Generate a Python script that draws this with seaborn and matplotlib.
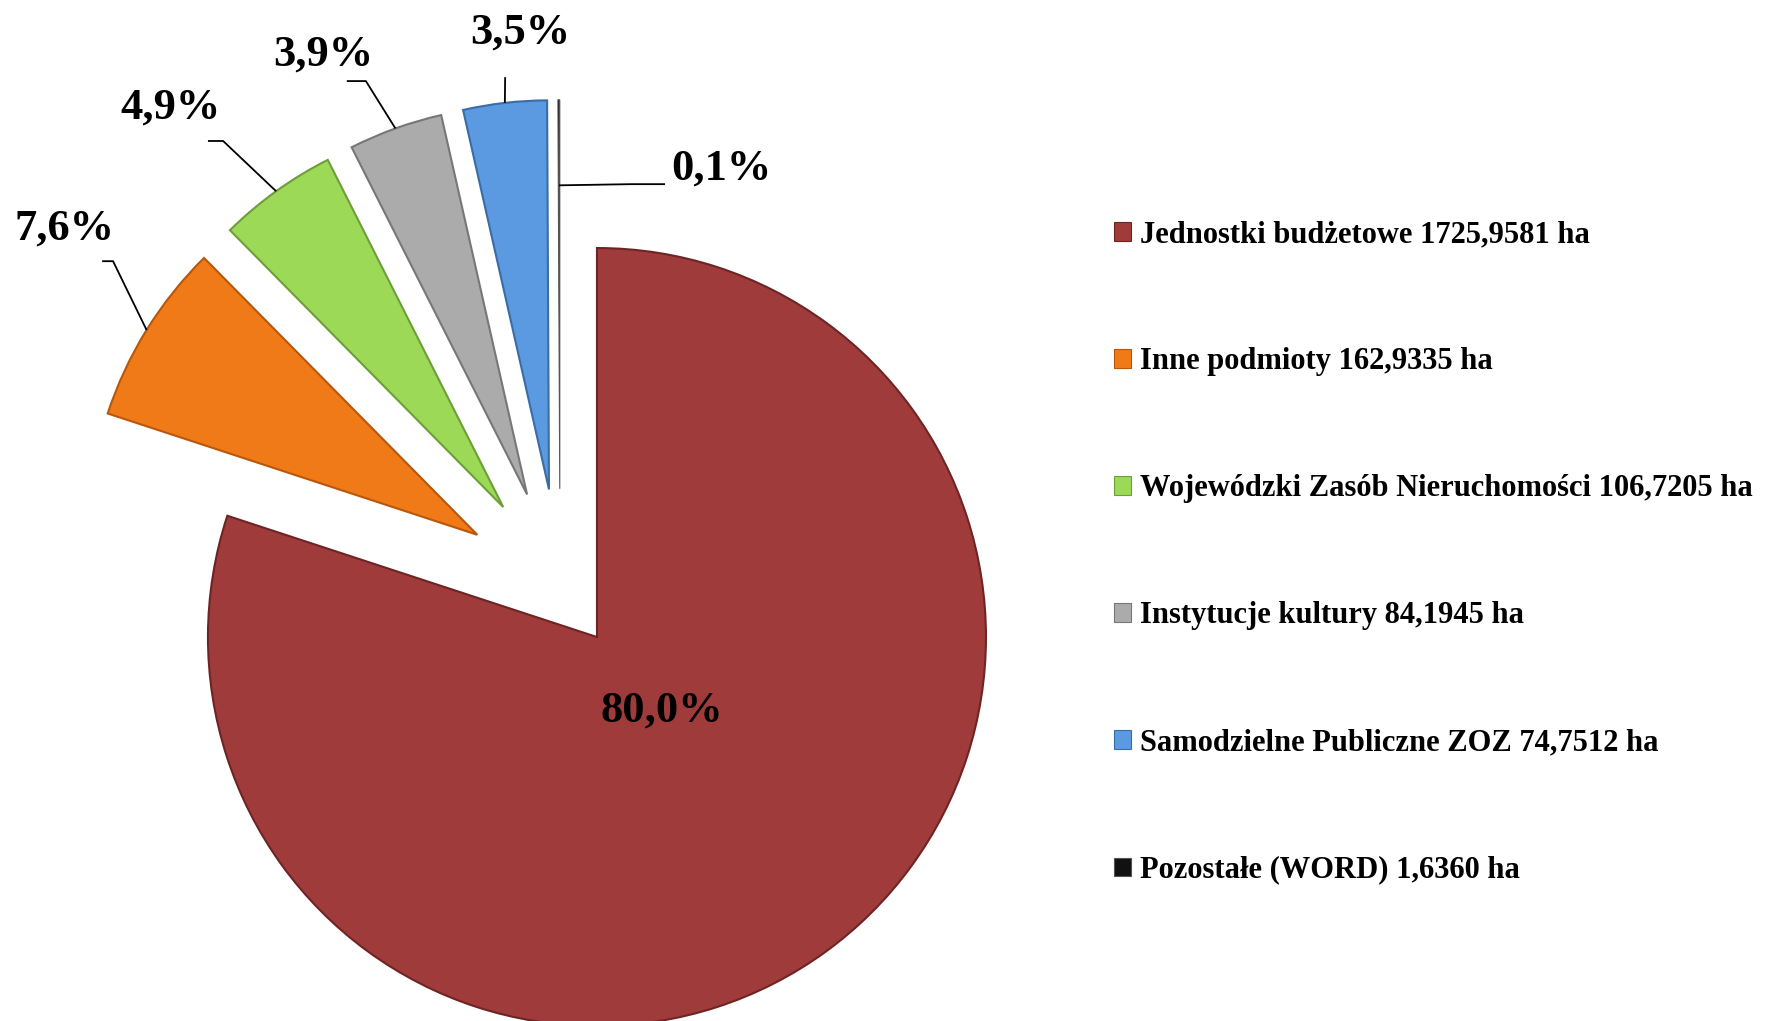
import matplotlib
matplotlib.use('Agg')
import matplotlib.pyplot as plt
from matplotlib.patches import Patch
import seaborn as sns
import numpy as np

# data
categories = ['Jednostki budżetowe', 'Inne podmioty', 'Wojewódzki Zasób Nieruchomości',
              'Instytucje kultury', 'Samodzielne Publiczne ZOZ', 'Pozostałe (WORD)']
areas_ha = [1725.9581, 162.9335, 106.7205, 84.1945, 74.7512, 1.6360]
area_labels = ['1725,9581', '162,9335', '106,7205', '84,1945', '74,7512', '1,6360']
colors = ['#A03B3B', '#F07A17', '#9CD957', '#ABABAB', '#5B9AE0', '#111111']
edge_colors = ['#6E2424', '#B8570C', '#6E9E38', '#777777', '#3A6CA6', '#555555']

sns.set_theme(style='white')
plt.rcParams['font.family'] = ['Liberation Serif', 'DejaVu Serif']
plt.rcParams['font.weight'] = 'bold'
plt.rcParams['text.color'] = 'black'

fig = plt.figure(figsize=(17.66, 10.21), dpi=100)
ax = fig.add_axes([0, 0, 1, 1])

explode = [0.162, 0.25, 0.25, 0.25, 0.25, 0.25]
wedges, _ = ax.pie(areas_ha, colors=colors, startangle=90, counterclock=False,
                   explode=explode, radius=1.0,
                   wedgeprops=dict(linewidth=1.5))
for w, ec in zip(wedges, edge_colors):
    w.set_edgecolor(ec)
wedges[-1].set_linewidth(0.8)

# pie centre at (560, 586) px, radius 389 px
R_PX = 389.0
cx, cy = 560.0, 586.0
W, H = 1766.0, 1021.0
ax.set_aspect('auto')
ax.set_xlim(-cx / R_PX, (W - cx) / R_PX)
ax.set_ylim(-(H - cy) / R_PX, cy / R_PX)
ax.axis('off')

total = sum(areas_ha)
pct = [f"{v / total * 100:.1f}".replace('.', ',') + '%' for v in areas_ha]


def outer_mid(w, frac=1.0):
    ang = np.deg2rad((w.theta1 + w.theta2) / 2)
    return (w.center[0] + frac * w.r * np.cos(ang), w.center[1] + frac * w.r * np.sin(ang))


# label layout: text position, and leader path points (text side)
text_pos = [(0.262, -0.319), (-1.275, 0.920), (-1.000, 1.231), (-0.609, 1.365),
            (-0.103, 1.424), (0.414, 1.072)]
leaders = [None,
           [(-1.149, 0.835), (-1.177, 0.835)],
           [(-0.866, 1.144), (-0.905, 1.144)],
           [(-0.499, 1.298), (-0.548, 1.298)],
           [(-0.141, 1.308)],
           [(0.183, 1.033), (0.270, 1.033)]]
anchor_frac = [1.0, 1.0, 1.0, 1.0, 1.0, 0.78]

for i, w in enumerate(wedges):
    ax.text(*text_pos[i], pct[i], fontsize=32, fontweight='bold',
            ha='center', va='center', color='black')
    if leaders[i] is not None:
        p0 = outer_mid(w, anchor_frac[i])
        pts = [p0] + leaders[i]
        xs, ys = zip(*pts)
        ax.plot(xs, ys, color='black', lw=1.3, solid_capstyle='butt')

labels = [f"{c} {a} ha" for c, a in zip(categories, area_labels)]
handles = [Patch(facecolor=c, edgecolor=e, linewidth=0.8) for c, e in zip(colors, edge_colors)]
leg = ax.legend(handles, labels, loc='center left', bbox_to_anchor=(0.631, 0.459),
                frameon=False, fontsize=22, handlelength=0.55, handleheight=0.55,
                handletextpad=0.3, labelspacing=3.21, borderpad=0, borderaxespad=0)
for t in leg.get_texts():
    t.set_fontweight('bold')
    t.set_color('black')

fig.savefig('out.png', dpi=100, facecolor='white')
